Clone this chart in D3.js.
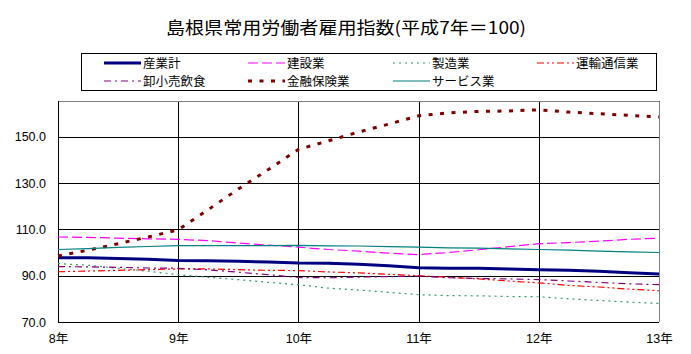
<!DOCTYPE html>
<html>
<head>
<meta charset="utf-8">
<script src="https://cdn.jsdelivr.net/npm/d3@7/dist/d3.min.js"></script>
<style>
  body { margin: 0; background: #fff; }
  text { font-family: "Liberation Sans", "Noto Sans CJK JP", sans-serif; }
</style>
</head>
<body>
<div id="chart"></div>
<script>
// quarterly positions, 平成8年 .. 平成13年
var periods = [8, 8.25, 8.5, 8.75, 9, 9.25, 9.5, 9.75, 10, 10.25, 10.5, 10.75,
               11, 11.25, 11.5, 11.75, 12, 12.25, 12.5, 12.75, 13];
var yearTicks = [8, 9, 10, 11, 12, 13];
var valueTicks = [70, 90, 110, 130, 150];

var sangyokei = [97.7, 97.7, 97.4, 97.1, 96.5, 96.4, 96.2, 95.9, 95.5, 95.4, 94.9, 94.3, 93.4, 93.2, 93.2, 92.9, 92.6, 92.3, 91.9, 91.3, 90.7];
var kensetsu = [106.7, 106.5, 106.2, 105.9, 105.7, 105.1, 104.1, 103.2, 102.3, 101.3, 100.6, 99.7, 99.1, 100.0, 101.2, 102.5, 103.8, 104.3, 104.9, 105.7, 106.2];
var seizo = [95.2, 94.5, 93.2, 91.9, 90.4, 89.3, 88.3, 87.1, 86.1, 84.6, 83.8, 82.8, 81.8, 81.4, 81.3, 81.0, 80.9, 80.0, 79.3, 78.6, 78.0];
var unyu = [91.7, 92.0, 92.3, 92.6, 92.9, 92.9, 92.6, 92.3, 92.2, 91.6, 91.2, 90.6, 90.0, 89.3, 88.6, 87.7, 86.9, 85.8, 85.1, 84.2, 83.5];
var oroshi = [93.9, 93.8, 93.6, 93.3, 93.2, 92.5, 91.5, 90.4, 89.2, 89.1, 89.4, 89.6, 89.8, 89.1, 88.8, 88.6, 88.3, 87.7, 87.1, 86.5, 86.1];
var kinyu = [98.5, 101.0, 103.8, 106.7, 109.8, 118.5, 127.4, 135.8, 144.5, 148.2, 152.0, 155.4, 159.0, 160.3, 160.9, 161.1, 161.6, 160.6, 159.9, 159.2, 158.5];
var service = [101.3, 101.7, 102.2, 102.6, 103.0, 103.0, 103.0, 103.0, 103.1, 102.9, 102.8, 102.5, 102.3, 102.0, 101.9, 101.6, 101.3, 101.0, 100.6, 100.3, 100.0];

var series = [
    {name: "産業計", values: sangyokei, color: "#000080", width: 3, dash: null},
    {name: "建設業", values: kensetsu, color: "#ff00ff", width: 1.2, dash: "10,4"},
    {name: "製造業", values: seizo, color: "#339966", width: 1.2, dash: "2,4"},
    {name: "運輸通信業", values: unyu, color: "#ff0000", width: 1.2, dash: "7,3,2,3,2,3"},
    {name: "卸小売飲食", values: oroshi, color: "#800080", width: 1.2, dash: "7,4,2,4"},
    {name: "金融保険業", values: kinyu, color: "#800000", width: 3, dash: "4,7.5"},
    {name: "サービス業", values: service, color: "#008080", width: 1.2, dash: null}
];

var W = 691, H = 354;
var plotLeft = 58, plotRight = 659, plotTop = 101, plotBottom = 322;

var svg = d3.select("#chart").append("svg")
        .attr("width", W)
        .attr("height", H);
svg.append("rect").attr("width", W).attr("height", H).attr("fill", "#fff");

svg.append("text")
        .attr("x", 346)
        .attr("y", 34)
        .attr("text-anchor", "middle")
        .attr("font-size", 17)
        .attr("textLength", 360)
        .attr("lengthAdjust", "spacingAndGlyphs")
        .style("font-family", "'Noto Sans CJK JP', sans-serif")
        .text("島根県常用労働者雇用指数(平成7年＝100)");

var x = d3.scaleLinear().domain([8, 13]).range([plotLeft, plotRight]);
var y = d3.scaleLinear().domain([70, 165.4]).range([plotBottom, plotTop]);

// gridlines + labels
var gy = svg.append("g")
        .attr("transform", "translate(" + plotLeft + ",0)")
        .call(d3.axisLeft(y).tickValues(valueTicks).tickSize(-(plotRight - plotLeft))
                .tickPadding(12).tickFormat(d3.format(".1f")));
gy.select(".domain").remove();
gy.selectAll("line").attr("stroke", "#000").attr("shape-rendering", "crispEdges");
gy.selectAll("text").attr("font-size", 12.5).attr("fill", "#000");

var gx = svg.append("g")
        .attr("transform", "translate(0," + plotBottom + ")")
        .call(d3.axisBottom(x).tickValues(yearTicks).tickSize(-(plotBottom - plotTop))
                .tickPadding(12).tickFormat(function (d) { return d + "年"; }));
gx.select(".domain").remove();
gx.selectAll("line").attr("stroke", "#000").attr("shape-rendering", "crispEdges");
gx.selectAll("text").attr("font-size", 12.5).attr("fill", "#000");

// plot frame: gray top/right, black left/bottom
svg.append("path")
        .attr("d", "M" + plotLeft + "," + (plotTop + 0.5) + "H" + (plotRight + 0.5) + "V" + plotBottom)
        .attr("fill", "none").attr("stroke", "#808080");
svg.append("path")
        .attr("d", "M" + (plotLeft + 0.5) + "," + plotTop + "V" + (plotBottom + 0.5) + "H" + plotRight)
        .attr("fill", "none").attr("stroke", "#000");

var line = d3.line()
        .x(function (d, i) { return x(periods[i]); })
        .y(function (d) { return y(d); });

var plot = svg.append("g");
series.forEach(function (s) {
    plot.append("path")
            .datum(s.values)
            .attr("fill", "none")
            .attr("stroke", s.color)
            .attr("stroke-width", s.width)
            .attr("stroke-dasharray", s.dash)
            .attr("d", line);
});

// legend
var legend = svg.append("g");
legend.append("rect")
        .attr("x", 81.5).attr("y", 53.5)
        .attr("width", 575).attr("height", 37)
        .attr("fill", "#fff").attr("stroke", "#000");

var colX = [104, 248, 393, 537];
var rowY = [63, 81];
var item = legend.selectAll(".item")
        .data(series)
        .enter().append("g")
        .attr("class", "item")
        .attr("transform", function (d, i) {
            return "translate(" + colX[i % 4] + "," + rowY[Math.floor(i / 4)] + ")";
        });
item.append("line")
        .attr("x1", 0).attr("x2", 37)
        .attr("stroke", function (d) { return d.color; })
        .attr("stroke-width", function (d) { return d.width; })
        .attr("stroke-dasharray", function (d) { return d.dash; });
item.append("text")
        .attr("x", 39)
        .attr("y", 4.5)
        .attr("font-size", 12.5)
        .style("font-family", "'Noto Sans CJK JP', sans-serif")
        .text(function (d) { return d.name; });
</script>
</body>
</html>
